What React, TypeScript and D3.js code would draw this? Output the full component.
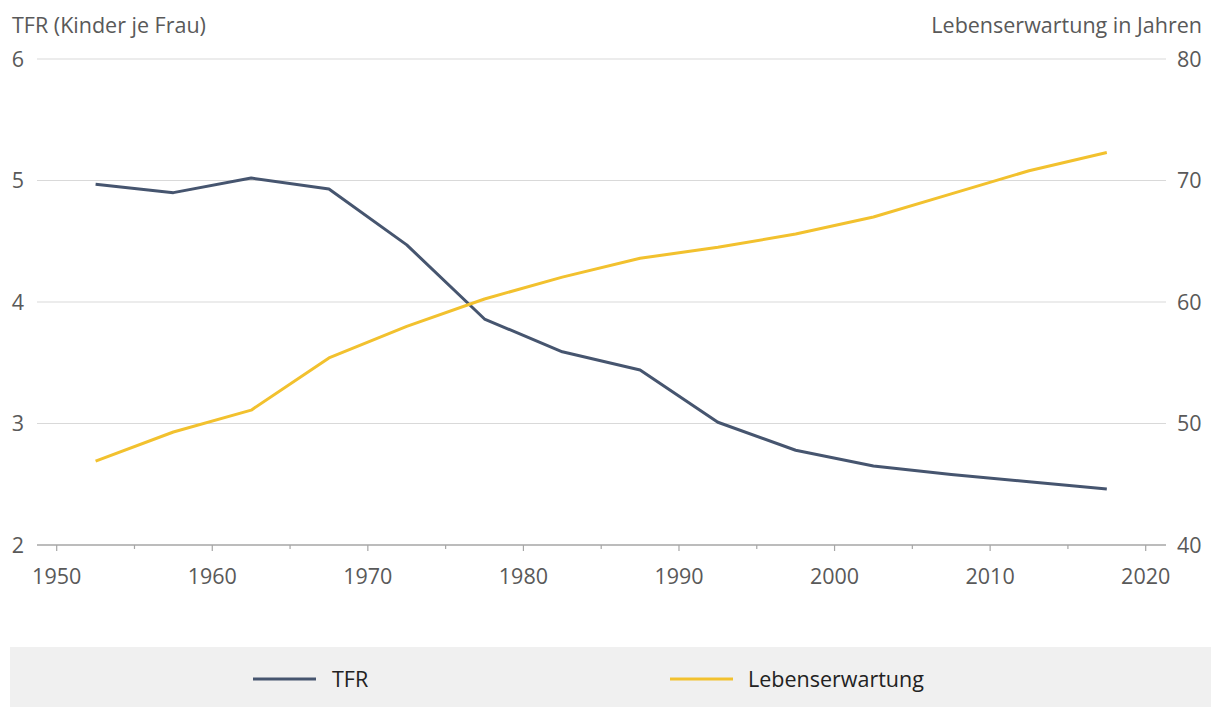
import React from "react";
import * as d3 from "d3";

const years = [1952.5, 1957.5, 1962.5, 1967.5, 1972.5, 1977.5, 1982.5, 1987.5, 1992.5, 1997.5, 2002.5, 2007.5, 2012.5, 2017.5];
const tfr = [4.97, 4.9, 5.02, 4.93, 4.47, 3.86, 3.59, 3.44, 3.01, 2.78, 2.65, 2.58, 2.52, 2.46];
const lifeExp = [46.9, 49.3, 51.1, 55.4, 58.0, 60.25, 62.05, 63.6, 64.5, 65.6, 67.0, 68.9, 70.8, 72.3];
const xTicks = [1950, 1960, 1970, 1980, 1990, 2000, 2010, 2020];
const xMinorTicks = [1955, 1965, 1975, 1985, 1995, 2005, 2015];
const leftTicks = [2, 3, 4, 5, 6];
const rightTicks = [40, 50, 60, 70, 80];
const leftTitle = "TFR (Kinder je Frau)";
const rightTitle = "Lebenserwartung in Jahren";
const seriesNames = ["TFR", "Lebenserwartung"];
const colors = ["#46556f", "#f2c12e"];

const W = 1211;
const H = 707;
const FONT = "'Open Sans', 'Noto Sans', sans-serif";
const TEXT = "#595959";
const FS = 21.5;

export default function App() {
  const x = d3.scaleLinear().domain([1950, 2020]).range([56.7, 1145.7]);
  const yL = d3.scaleLinear().domain([2, 6]).range([545, 59]);
  const yR = d3.scaleLinear().domain([40, 80]).range([545, 59]);
  const gridLeft = 37;
  const gridRight = 1166;

  const lineL = d3.line<number>().x((_, i) => x(years[i])).y((d) => yL(d));
  const lineR = d3.line<number>().x((_, i) => x(years[i])).y((d) => yR(d));

  return (
    <svg width={W} height={H} style={{ position: "absolute", left: 0, top: 0 }} fontFamily={FONT}>
      <rect x={0} y={0} width={W} height={H} fill="#fff" />
      <text x={12} y={33} fontSize={FS} fill={TEXT}>{leftTitle}</text>
      <text x={1202} y={33} fontSize={FS} fill={TEXT} textAnchor="end">{rightTitle}</text>

      {leftTicks.slice(1).map((t) => (
        <line key={t} x1={gridLeft} x2={gridRight} y1={yL(t)} y2={yL(t)} stroke="#d9d9d9" strokeWidth={1.2} />
      ))}
      {leftTicks.map((t) => (
        <text key={t} x={24} y={yL(t)} dy="0.36em" fontSize={FS} fill={TEXT} textAnchor="end">{t}</text>
      ))}
      {rightTicks.map((t) => (
        <text key={t} x={1177} y={yR(t)} dy="0.36em" fontSize={FS} fill={TEXT}>{t}</text>
      ))}

      <line x1={gridLeft} x2={gridRight} y1={545} y2={545} stroke="#a6a6a6" strokeWidth={1.5} />
      {xTicks.map((t) => (
        <g key={t}>
          <line x1={x(t)} x2={x(t)} y1={545} y2={551} stroke="#a6a6a6" strokeWidth={1.2} />
          <text x={x(t)} y={584} fontSize={FS} fill={TEXT} textAnchor="middle">{t}</text>
        </g>
      ))}
      {xMinorTicks.map((t) => (
        <line key={t} x1={x(t)} x2={x(t)} y1={545} y2={549} stroke="#a6a6a6" strokeWidth={1.2} />
      ))}

      <path d={lineL(tfr) || ""} fill="none" stroke={colors[0]} strokeWidth={3} strokeLinejoin="round" />
      <path d={lineR(lifeExp) || ""} fill="none" stroke={colors[1]} strokeWidth={3} strokeLinejoin="round" />

      <rect x={10} y={647} width={1201} height={60} fill="#f0f0f0" />
      <line x1={253} x2={316} y1={679} y2={679} stroke={colors[0]} strokeWidth={3} />
      <text x={332} y={679} dy="0.36em" fontSize={FS} fill="#222">{seriesNames[0]}</text>
      <line x1={670} x2={733} y1={679} y2={679} stroke={colors[1]} strokeWidth={3} />
      <text x={748} y={679} dy="0.36em" fontSize={FS} fill="#222">{seriesNames[1]}</text>
    </svg>
  );
}
